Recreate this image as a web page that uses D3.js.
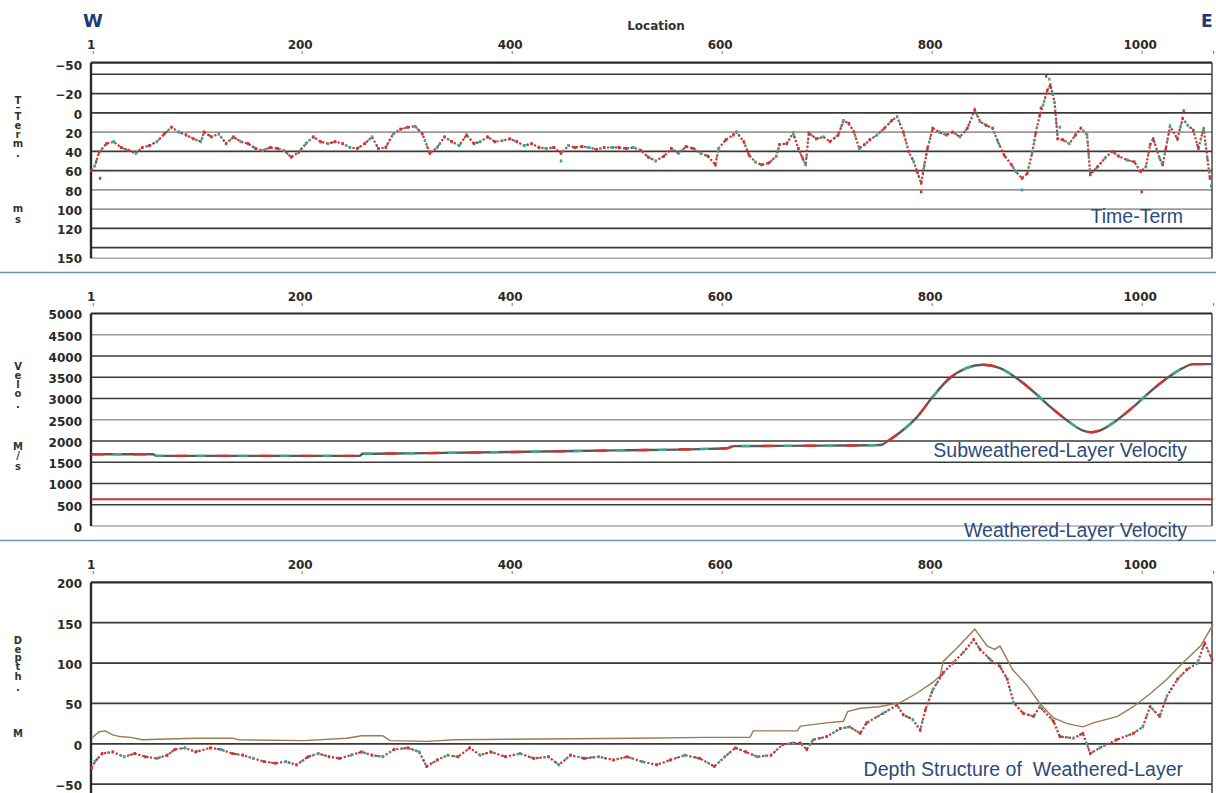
<!DOCTYPE html>
<html><head><meta charset="utf-8">
<script src="https://cdn.jsdelivr.net/npm/d3@7"></script>
<style>body{margin:0;background:#fff;} svg{display:block;font-family:"DejaVu Sans",sans-serif;}</style>
</head><body><svg id="c" width="1216" height="793"></svg>
<script>
// ---------- shared x axis ----------
const xTicks = [1, 200, 400, 600, 800, 1000];
const xEnd = 1068;

// ---------- panel 1: Time-Term (ms) ----------
const ttLoc = [0,3,7,14,21,28,35,42,48,55,62,69,76,83,90,97,104,107,114,121,128,135,142,149,156,163,170,177,183,190,197,204,211,218,225,232,239,246,253,260,267,273,280,287,294,301,308,315,322,329,336,343,350,357,364,370,377,384,391,398,405,412,419,426,433,440,447,454,460,467,474,481,488,495,502,509,516,523,530,537,545,552,559,566,573,580,587,594,597,604,611,614,621,626,632,638,645,652,655,662,668,673,677,680,683,690,697,703,711,716,721,726,731,736,741,748,755,762,767,773,778,783,786,790,793,796,801,807,814,820,827,834,841,846,852,858,863,869,876,880,886,891,896,899,903,906,910,913,917,920,925,931,937,942,948,951,958,965,972,978,986,993,999,1004,1008,1011,1017,1020,1023,1027,1034,1039,1044,1049,1054,1059,1065];
const ttVal = [60,55,41,32,30,36,39,42,36,34,30,22,15,20,23,27,30,20,25,22,32,25,30,32,37,39,36,37,39,46,41,32,25,30,32,30,32,36,37,32,25,37,36,22,17,15,14,22,42,36,25,30,34,23,32,30,25,30,29,27,30,34,32,36,37,36,42,34,36,35,36,38,36,36,36,37,36,39,46,50,45,37,42,35,37,42,45,54,37,28,23,20,30,44,51,54,52,45,33,32,21,37,47,54,21,27,25,30,23,8,11,20,37,33,28,23,16,8,4,20,40,51,61,73,54,37,16,20,23,20,25,16,-3,9,13,16,30,44,54,61,68,63,40,21,2,-8,-23,-29,-11,27,28,32,23,16,23,64,56,47,40,45,49,51,61,56,33,27,47,54,37,14,27,6,13,18,37,16,68];
const ttOutLoc = [8,447,790,886,909,912,904,922,1000,1066,1040];
const ttOutVal = [68,50,82,80,-38,-35,-5,15,82,76,-2];
const ttTicks = [-50,-20,0,20,40,60,80,100,120,150];
const ttGrid = [-40,-20,0,20,40,60,80,100,120,140];
const ttLight = [20,80,100];

// ---------- panel 2: Velocity (m/s) ----------
const velLoc = [0,58,62,255,258,300,400,500,579,605,612,700,751,760,770,786,801,817,833,849,865,881,897,913,929,944,952,960,976,992,1008,1024,1039,1049,1068];
const velSub = [1690,1690,1650,1650,1700,1710,1740,1780,1810,1830,1880,1890,1905,2030,2206,2563,3040,3476,3714,3793,3714,3476,3159,2802,2484,2246,2206,2246,2484,2802,3159,3476,3714,3810,3810];
const velWeaLoc = [0,1068];
const velWea = [630,630];
const velTicks = [0,500,1000,1500,2000,2500,3000,3500,4000,4500,5000];
const velGrid = [500,1000,1500,2000,2500,3000,3500,4000,4500];
const velLight = [2500,4500];

// ---------- panel 3: Depth (m) ----------
const dLoc = [0,3,10,20,31,41,51,62,72,79,89,99,113,123,134,144,154,164,175,185,195,206,216,226,236,247,257,267,277,288,301,312,319,329,339,349,360,370,380,394,408,421,435,445,456,469,483,497,510,524,538,551,565,579,593,603,613,623,634,647,658,668,675,681,687,700,713,722,732,738,754,767,773,782,789,794,801,811,820,830,840,846,856,865,872,878,887,897,903,916,922,935,944,951,960,976,992,1001,1008,1017,1024,1034,1043,1053,1060,1067];
const dVal = [-30,-22,-12,-10,-16,-12,-16,-18,-14,-7,-5,-10,-5,-7,-12,-14,-18,-22,-24,-22,-26,-16,-12,-16,-18,-14,-10,-14,-16,-7,-5,-10,-28,-20,-14,-16,-5,-14,-10,-16,-12,-18,-16,-26,-14,-18,-16,-20,-16,-22,-26,-20,-14,-18,-28,-16,-5,-10,-16,-14,-1,1,1,-7,5,9,19,21,13,26,38,48,36,30,17,42,67,88,100,113,129,117,104,96,80,51,38,34,46,28,9,7,13,-12,-5,5,13,21,46,34,59,80,92,100,125,104];
const bLoc = [0,7,13,20,27,37,48,72,99,134,140,202,243,257,277,284,319,346,428,517,586,627,630,672,675,700,716,720,732,750,770,785,801,808,811,825,841,853,860,865,877,891,903,916,929,944,954,977,992,1008,1024,1039,1056,1068];
const bVal = [7,15,16,11,9,8,5,6,7,7,5,4,7,10,10,4,3,5,6,7,8,8,16,16,22,26,28,40,44,46,51,62,76,84,102,120,142,121,117,121,92,72,50,32,25,21,26,34,46,62,80,100,121,148];
const dTicks = [-50,0,50,100,150,200];
const dGrid = [-50,0,50,100,150];

// ---------- scales ----------
const x = d3.scaleLinear([0, xEnd], [91.7, 1213.1]);
const yTT = d3.scaleLinear([-52, 151], [62.7, 258.3]);
const yV = d3.scaleLinear([0, 5000], [526, 313.5]);
const yD = d3.scaleLinear([-60, 200], [792.3, 582.3]);

const svg = d3.select("#c");
const RED = "#d6312c", TEAL = "#3aa898", GREY = "#5a5a5a", BLUE = "#2d4a7a";
const L = 91, R = 1212;

// separators
[272.5, 540.5].forEach(y => svg.append("line").attr("x1",0).attr("x2",1216).attr("y1",y).attr("y2",y)
  .attr("stroke","#7596a8").attr("stroke-width",1.6));

// W / E / Location
svg.append("text").attr("x",83).attr("y",27).attr("font-size",18).attr("font-weight","bold").attr("fill","#1b3b73").text("W");
svg.append("text").attr("x",1201).attr("y",27).attr("font-size",17).attr("font-weight","bold").attr("fill","#1b3b73").text("E");
svg.append("text").attr("x",656).attr("y",30).attr("text-anchor","middle").attr("font-size",12).attr("font-weight","bold").attr("fill","#333").text("Location");

function panel(y, ticks, grid, light, top, bottom, axisY, frameBottom, letters) {
  const g = svg.append("g");
  g.selectAll(".grid").data(grid).join("line")
    .attr("x1",L).attr("x2",R).attr("y1",d=>y(d)).attr("y2",d=>y(d))
    .attr("stroke",d=>light.includes(d)?"#9a9a9a":"#3a3a3a").attr("stroke-width",1.7);
  g.append("line").attr("x1",L).attr("x2",R).attr("y1",top).attr("y2",top).attr("stroke","#2a2a2a").attr("stroke-width",2.2);
  if (frameBottom) g.append("line").attr("x1",L).attr("x2",R).attr("y1",bottom).attr("y2",bottom).attr("stroke","#a8a8a8").attr("stroke-width",1.6);
  g.append("line").attr("x1",L).attr("x2",L).attr("y1",top).attr("y2",bottom).attr("stroke","#2a2a2a").attr("stroke-width",2.4);
  g.append("line").attr("x1",R).attr("x2",R).attr("y1",top).attr("y2",bottom).attr("stroke","#3a3a3a").attr("stroke-width",1.4);
  const ya = g.append("g").attr("transform",`translate(${L},1.5)`)
    .call(d3.axisLeft(y).tickValues(ticks).tickSize(0).tickPadding(9).tickFormat(d3.format("d")));
  ya.select(".domain").remove();
  ya.selectAll("text").attr("font-family","DejaVu Sans").attr("font-size",12).attr("font-weight","bold").attr("fill","#2a2a2a");
  const xa = g.append("g").attr("transform",`translate(0,${axisY})`)
    .call(d3.axisTop(x).tickValues(xTicks.concat([xEnd])).tickSize(3).tickPadding(2).tickFormat(d => d===xEnd ? "" : d));
  xa.select(".domain").remove();
  xa.selectAll("line").attr("stroke","#777");
  xa.selectAll("text").attr("font-family","DejaVu Sans").attr("font-size",12).attr("font-weight","bold").attr("fill","#2a2a2a").attr("dx",-2);
  // vertical axis title: one text element, one tspan per letter
  const t = g.append("text").attr("font-size",10).attr("font-weight","bold").attr("fill","#333").attr("text-anchor","middle");
  t.selectAll("tspan").data(letters).join("tspan")
    .attr("x",18).attr("y",d=>d[1]+3.5).text(d=>d[0]);
  return g;
}

function scatterSeries(g, locs, vals, y) {
  const pts = locs.map((l,i)=>[x(l), y(vals[i])]);
  const line = d3.line();
  g.append("path").attr("d",line(pts)).attr("fill","none").attr("stroke",RED).attr("stroke-width",2.2).attr("stroke-dasharray","2.2 1.8");
  g.append("path").attr("d",line(pts)).attr("fill","none").attr("stroke",TEAL).attr("stroke-width",2.2).attr("stroke-dasharray","2.5 11").attr("stroke-dashoffset",4);
  g.append("path").attr("d",line(pts)).attr("fill","none").attr("stroke","#555").attr("stroke-width",1.6).attr("stroke-dasharray","1.5 17").attr("stroke-dashoffset",9);
  g.selectAll(null).data(pts).join("rect")
    .attr("x",d=>d[0]-1.2).attr("y",d=>d[1]-1.5).attr("width",2.4).attr("height",3)
    .attr("fill",(d,i)=> i%3===1 ? TEAL : RED);
}

// ---------- Panel 1 ----------
const p1 = panel(yTT, ttTicks, ttGrid, ttLight, 62.7, 258.3, 54, true,
  [["T",100],["–",107],["T",116],["e",125],["r",134],["m",143],["·",156],["m",208],["s",219]]);
scatterSeries(p1, ttLoc, ttVal, yTT);
p1.selectAll(null).data(ttOutLoc).join("rect")
  .attr("x",d=>x(d)-1.2).attr("y",(d,i)=>yTT(ttOutVal[i])-1.5).attr("width",2.4).attr("height",3)
  .attr("fill",(d,i)=> i%2 ? TEAL : RED);
p1.append("text").attr("x",1183).attr("y",223).attr("text-anchor","end").attr("font-family","Liberation Sans, Arial").attr("font-size",19.5).attr("fill",BLUE).text("Time-Term");

// ---------- Panel 2 ----------
const p2 = panel(yV, velTicks, velGrid, velLight, 313.5, 526, 306, true,
  [["V",366],["e",375],["l",384],["o",393],["·",407],["M",446],["/",455],["s",466]]);
const vPts = velLoc.map((l,i)=>[l, velSub[i]]);
const vLine = d3.line().x(d=>x(d[0])).y(d=>yV(d[1])).curve(d3.curveMonotoneX);
p2.append("path").attr("d",vLine(vPts)).attr("fill","none").attr("stroke",GREY).attr("stroke-width",2.4);
p2.append("path").attr("d",vLine(vPts)).attr("fill","none").attr("stroke",RED).attr("stroke-width",2.4).attr("stroke-dasharray","12 30");
p2.append("path").attr("d",vLine(vPts)).attr("fill","none").attr("stroke",TEAL).attr("stroke-width",2.4).attr("stroke-dasharray","9 33").attr("stroke-dashoffset",-21);
const wPts = velWeaLoc.map((l,i)=>[l, velWea[i]]);
p2.append("path").attr("d",d3.line().x(d=>x(d[0])).y(d=>yV(d[1]))(wPts)).attr("fill","none").attr("stroke",RED).attr("stroke-width",2);
p2.append("text").attr("x",1187).attr("y",457).attr("text-anchor","end").attr("font-family","Liberation Sans, Arial").attr("font-size",19.5).attr("fill",BLUE).text("Subweathered-Layer Velocity");
p2.append("text").attr("x",1187).attr("y",537).attr("text-anchor","end").attr("font-family","Liberation Sans, Arial").attr("font-size",19.5).attr("fill",BLUE).text("Weathered-Layer Velocity");

// ---------- Panel 3 ----------
const p3 = panel(yD, dTicks, dGrid, [], 582.3, 800, 574, false,
  [["D",640],["e",649],["p",657],["t",666],["h",676],["·",690],["M",733]]);
const bPts = bLoc.map((l,i)=>[x(l), yD(bVal[i])]);
p3.append("path").attr("d",d3.line()(bPts)).attr("fill","none").attr("stroke","#9c7a52").attr("stroke-width",1.4);
scatterSeries(p3, dLoc, dVal, yD);
p3.append("text").attr("x",1183).attr("y",776).attr("text-anchor","end").attr("font-family","Liberation Sans, Arial").attr("font-size",19.5).attr("fill",BLUE).attr("style","white-space:pre").text("Depth Structure of  Weathered-Layer");
</script></body></html>
